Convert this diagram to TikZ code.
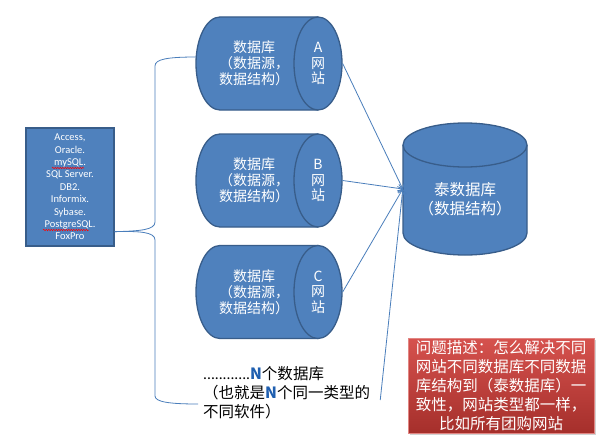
\documentclass[tikz,border=0pt]{standalone}
\usepackage{fontspec}
\setmainfont{Carlito}
\newfontfamily\cjk{Noto Sans CJK SC}
\usetikzlibrary{shapes.geometric,arrows.meta,shadows,calc,decorations.pathmorphing}
\definecolor{cylfill}{HTML}{4F81BD}
\definecolor{cyledge}{HTML}{385D8A}
\definecolor{linecol}{HTML}{4A7EBB}
\definecolor{redtop}{HTML}{D6524E}
\definecolor{redbot}{HTML}{A52F2B}
\definecolor{nblue}{HTML}{1F5FB0}
\newcommand\HCyl[3]{%
  \fill[cylfill] (#1,#3-46.5) -- (#2,#3-46.5) -- (#2,#3+46.5) -- (#1,#3+46.5)
    arc[start angle=90,end angle=270,x radius=24,y radius=46.5] -- cycle;
  \draw[cyledge,line width=1.3pt] (#2,#3-46.5) -- (#1,#3-46.5)
    arc[start angle=270,end angle=90,x radius=24,y radius=46.5] -- (#2,#3+46.5);
}
\begin{document}
\begin{tikzpicture}[x=1pt,y=-1pt,
  capnode/.style={ellipse,fill=cylfill,draw=cyledge,line width=1.3pt,minimum width=48pt,
    minimum height=93pt,inner sep=0pt,text=white,align=center,
    font=\cjk\fontsize{14}{15.5}\selectfont},
  cyltext/.style={text=white,align=center,inner sep=0pt,font=\cjk\fontsize{14}{15.8}\selectfont},
  conn/.style={draw=linecol,line width=0.8pt,-{Straight Barb[length=4pt,width=8pt]}},
  brace/.style={draw=linecol,line width=0.8pt},
  squiggle/.style={draw=red,line width=0.5pt,decorate,decoration={snake,amplitude=0.7pt,segment length=2.5pt}}
]
\fill[white] (0,0) rectangle (601,444);
\useasboundingbox (0,0) rectangle (601,444);

% source box
\node[draw=cyledge,fill=cylfill,line width=1.3pt,minimum width=88pt,minimum height=118pt,
  inner sep=0pt,text=white,align=center,font=\fontsize{10.5}{12.4}\selectfont] (src) at (70,187)
  {Access,\\Oracle.\\mySQL.\\SQL Server.\\DB2.\\Informix.\\Sybase.\\PostgreSQL.\\FoxPro};
\draw[squiggle] (52,168) -- (84,168);
\draw[squiggle] (43,230) -- (89,230);

% brace
\coordinate (braceTop) at (197,57);
\coordinate (braceBot) at (198,404);
\draw[brace] ($(src.south east)+(0,-15)$) .. controls (140,231) and (155,230) .. (155,222)
  -- (155,66) .. controls (155,59) and (168,57) .. (braceTop);
\draw[brace] ($(src.south east)+(0,-15)$) .. controls (140,231) and (155,232) .. (155,240)
  -- (155,396) .. controls (155,402) and (170,404) .. (braceBot);

% horizontal cylinders
\HCyl{220}{318}{63.5}
\node[capnode] (capA) at (318,63.5) {A\\网\\站};
\node[cyltext] (dbA) at (254,63.5) {数据库\\（数据源，\\数据结构）};
\HCyl{220}{318}{180.5}
\node[capnode] (capB) at (318,180.5) {B\\网\\站};
\node[cyltext] (dbB) at (254,180.5) {数据库\\（数据源，\\数据结构）};
\HCyl{220}{318}{292}
\node[capnode] (capC) at (318,292) {C\\网\\站};
\node[cyltext] (dbC) at (254,292) {数据库\\（数据源，\\数据结构）};

% target cylinder
\fill[cylfill] (403,145) -- (403,233) arc[start angle=180,end angle=0,x radius=62,y radius=22] -- (527,145) -- cycle;
\draw[cyledge,line width=1.3pt] (403,145) -- (403,233) arc[start angle=180,end angle=0,x radius=62,y radius=22] -- (527,145);
\filldraw[fill=cylfill,draw=cyledge,line width=1.3pt] (465,145) ellipse[x radius=62,y radius=22];
\node[minimum width=124pt,minimum height=132pt,inner sep=0pt] (taiBox) at (465,189) {};
\node[cyltext,font=\cjk\fontsize{15.5}{19}\selectfont] (tai) at (465,199.5) {泰数据库\\（数据结构）};

% bottom text
\node[anchor=west,align=left,inner sep=0pt,font=\cjk\fontsize{15.5}{19}\selectfont] (ntext) at (203,393)
  {{\rmfamily............}\textcolor{nblue}{\textbf{N}}个数据库\\（也就是\textcolor{nblue}{\textbf{N}}个同一类型的\\不同软件）};

% connectors
\draw[conn] (capA.east) -- (taiBox.west);
\draw[conn] (capB.east) -- (taiBox.west);
\draw[conn] (capC.east) -- (taiBox.west);
\draw[conn] ([xshift=10pt,yshift=-7pt]ntext.east) -- (taiBox.west);

% note
\node[rectangle,top color=redtop,bottom color=redbot,draw=redtop!70!white,line width=0.6pt,
  drop shadow={opacity=0.35,shadow xshift=2pt,shadow yshift=-2pt},
  minimum width=186pt,minimum height=95pt,inner sep=0pt,text=white,align=center,
  font=\cjk\fontsize{15.5}{18.8}\selectfont] (note) at (501,385.5)
  {问题描述：怎么解决不同\\网站不同数据库不同数据\\库结构到（泰数据库）一\\致性，网站类型都一样，\\比如所有团购网站};
\end{tikzpicture}
\end{document}
